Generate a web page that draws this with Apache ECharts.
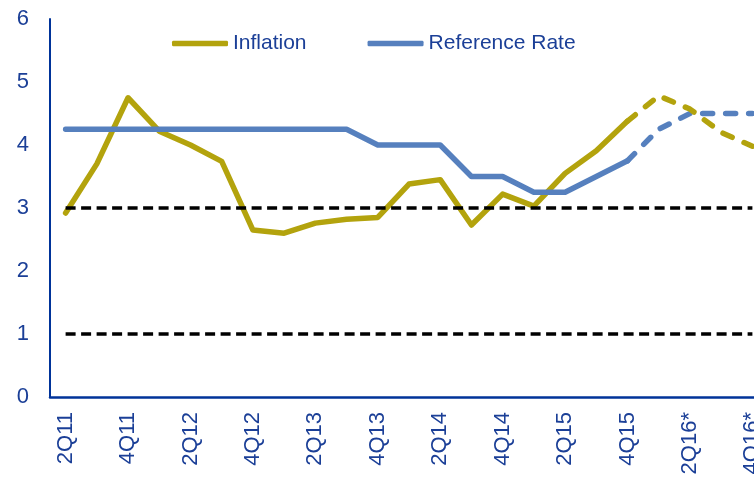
<!DOCTYPE html>
<html>
<head>
<meta charset="utf-8">
<style>
  html, body { margin: 0; padding: 0; background: #ffffff; overflow: hidden; }
  #chart { width: 768px; height: 479px; }
</style>
<script src="https://cdn.jsdelivr.net/npm/echarts@6/dist/echarts.min.js"></script>
</head>
<body>
<div id="chart"></div>
<script>
// Quarterly categories (forecast quarters marked with *)
const quarters = [
  '2Q11', '3Q11', '4Q11',
  '1Q12', '2Q12', '3Q12', '4Q12',
  '1Q13', '2Q13', '3Q13', '4Q13',
  '1Q14', '2Q14', '3Q14', '4Q14',
  '1Q15', '2Q15', '3Q15', '4Q15',
  '1Q16*', '2Q16*', '3Q16*', '4Q16*'
];

// Annual inflation, %
const inflation = [
  2.92, 3.70, 4.75,
  4.22, 4.00, 3.74, 2.65,
  2.60, 2.76, 2.82, 2.85,
  3.38, 3.45, 2.73, 3.22,
  3.03, 3.55, 3.91, 4.38,
  4.78, 4.57, 4.20, 3.98
];

// Central bank reference rate, %
const referenceRate = [
  4.25, 4.25, 4.25,
  4.25, 4.25, 4.25, 4.25,
  4.25, 4.25, 4.25, 4.00,
  4.00, 4.00, 3.50, 3.50,
  3.25, 3.25, 3.50, 3.75,
  4.25, 4.50, 4.50, 4.50
];

// Index of the last observed quarter; later points are projections
const lastActualIndex = 18;

// Inflation target range bounds, %
const targetRange = [1, 3];

const yTicks = [0, 1, 2, 3, 4, 5, 6];

const textBlue = '#1b3f97';
const axisBlue = '#003399';
const gold = '#b3a30d';
const steel = '#5680be';
const fontFamily = '"Liberation Sans", Arial, sans-serif';

function actualPart(values) {
  return values.map((v, i) => (i <= lastActualIndex ? v : null));
}
function forecastPart(values) {
  return values.map((v, i) => (i >= lastActualIndex ? v : null));
}

const lastCat = quarters[quarters.length - 1];
const bandLines = targetRange.map(v => [
  { coord: [quarters[0], v] },
  { coord: [lastCat, v] }
]);

const chart = echarts.init(document.getElementById('chart'), null, { renderer: 'canvas' });

chart.setOption({
  animation: false,
  backgroundColor: '#ffffff',
  grid: { left: 50, top: 19, right: 0, bottom: 82, containLabel: false },
  legend: {
    data: ['Inflation', 'Reference Rate'],
    left: 172,
    top: 33,
    padding: 0,
    icon: 'roundRect',
    itemWidth: 56,
    itemHeight: 5.5,
    itemGap: 61,
    textStyle: { color: textBlue, fontSize: 21, fontFamily: fontFamily }
  },
  xAxis: {
    type: 'category',
    data: quarters,
    boundaryGap: true,
    axisLine: { show: true, lineStyle: { color: axisBlue, width: 2.5 } },
    axisTick: { show: false },
    splitLine: { show: false },
    axisLabel: {
      rotate: 90,
      interval: 1,
      margin: 15,
      color: textBlue,
      fontSize: 22,
      fontFamily: fontFamily
    }
  },
  yAxis: {
    type: 'value',
    min: yTicks[0],
    max: yTicks[yTicks.length - 1],
    interval: 1,
    axisLine: { show: true, lineStyle: { color: axisBlue, width: 2 } },
    axisTick: { show: false },
    splitLine: { show: false },
    axisLabel: { margin: 21, color: textBlue, fontSize: 22, fontFamily: fontFamily }
  },
  series: [
    {
      name: 'Target range',
      type: 'line',
      data: [],
      silent: true,
      markLine: {
        silent: true,
        symbol: ['none', 'none'],
        label: { show: false },
        lineStyle: { color: '#000000', width: 3.5, type: [10, 5.5] },
        emphasis: { disabled: true },
        data: bandLines
      },
      z: 1
    },
    {
      name: 'Inflation',
      type: 'line',
      data: actualPart(inflation),
      symbol: 'none',
      color: gold,
      lineStyle: { color: gold, width: 5.5, cap: 'round', join: 'round' },
      z: 2
    },
    {
      name: 'Reference Rate',
      type: 'line',
      data: actualPart(referenceRate),
      symbol: 'none',
      color: steel,
      lineStyle: { color: steel, width: 5.5, cap: 'round', join: 'round' },
      z: 3
    },
    {
      name: 'Reference Rate (projection)',
      type: 'line',
      data: forecastPart(referenceRate),
      symbol: 'none',
      color: steel,
      lineStyle: { color: steel, width: 5.5, type: [10, 13], cap: 'round', join: 'round' },
      z: 4
    },
    {
      name: 'Inflation (projection)',
      type: 'line',
      data: forecastPart(inflation),
      symbol: 'none',
      color: gold,
      lineStyle: { color: gold, width: 5.5, type: [10, 13], cap: 'round', join: 'round' },
      z: 5
    }
  ]
});
</script>
</body>
</html>
